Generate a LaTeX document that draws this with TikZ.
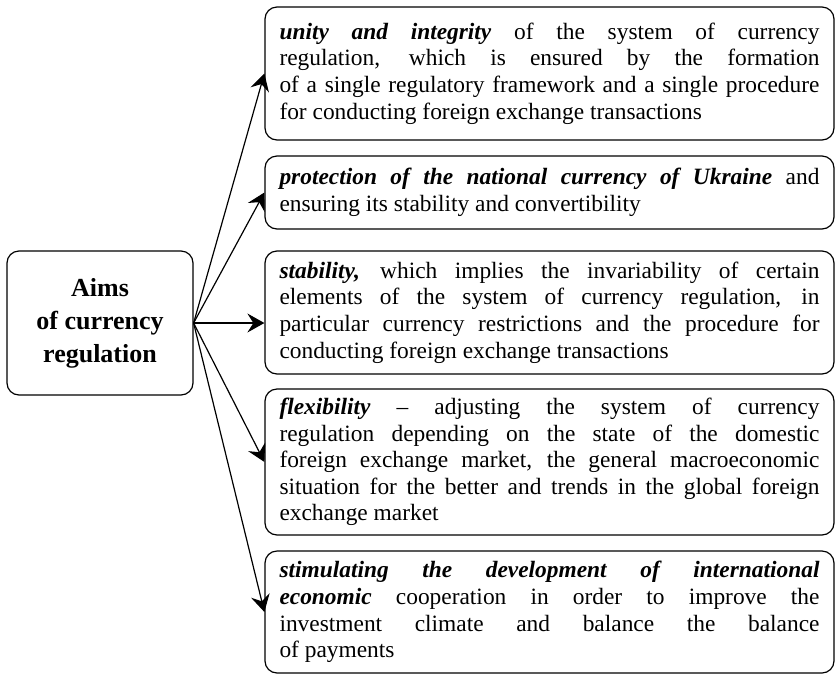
\documentclass[tikz,border=0pt]{standalone}
\usepackage{fontspec}
\setmainfont{Liberation Serif}
\usepackage{tikz}
\usetikzlibrary{arrows.meta}

\newcommand{\bi}[1]{\textbf{\textit{#1}}}

\begin{document}
\begin{tikzpicture}[>={Stealth[length=8.5pt,width=9.5pt,inset=3pt]},
  x=0.5pt,y=-0.5pt,line width=0.6pt,
  aimbox/.style={draw,rounded corners=6pt,align=center,inner sep=0pt,
    minimum width=93pt,minimum height=72pt,
    font=\bfseries\fontsize{13}{16.5}\selectfont},
  goalbox/.style={draw,rounded corners=6pt,align=justify,text width=270pt,
    inner xsep=7.25pt,inner ysep=0pt,
    font=\fontsize{11.7}{13.3}\selectfont}]
  % Frame
  \useasboundingbox (0,0) rectangle (836,676);
  %
  % Left box
  \node[aimbox] (aims) at (100,323) {Aims\\of currency\\regulation};
  %
  % Right boxes
  \node[goalbox,minimum height=66.5pt] (unity) at (549.5,73.5)
    {\bi{unity and integrity} of the system of currency\linebreak
     regulation, which is ensured by the formation\linebreak
     of a single regulatory framework and a single procedure\linebreak
     for conducting foreign exchange transactions};
  \node[goalbox,minimum height=36.5pt] (protection) at (549.5,192.5)
    {\bi{protection of the national currency of Ukraine} and\linebreak
     ensuring its stability and convertibility};
  \node[goalbox,minimum height=61.5pt] (stability) at (549.5,312.5)
    {\bi{stability,} which implies the invariability of certain\linebreak
     elements of the system of currency regulation, in\linebreak
     particular currency restrictions and the procedure for\linebreak
     conducting foreign exchange transactions};
  \node[goalbox,minimum height=73pt] (flexibility) at (549.5,462)
    {\bi{flexibility} -- adjusting the system of currency\linebreak
     regulation depending on the state of the domestic\linebreak
     foreign exchange market, the general macroeconomic\linebreak
     situation for the better and trends in the global foreign\linebreak
     exchange market};
  \node[goalbox,minimum height=61pt] (stimulation) at (549.5,612)
    {\bi{stimulating the development of international}\linebreak
     \bi{economic} cooperation in order to improve the\linebreak
     investment climate and balance the balance\linebreak
     of payments};
  %
  % Arrows
  \foreach \goal in {unity,protection,flexibility,stimulation}
    \draw[->] (aims.east) -- (\goal.west);
  \draw[->] (aims.east) -- (aims.east -| stability.west);
  %
\end{tikzpicture}
\end{document}
